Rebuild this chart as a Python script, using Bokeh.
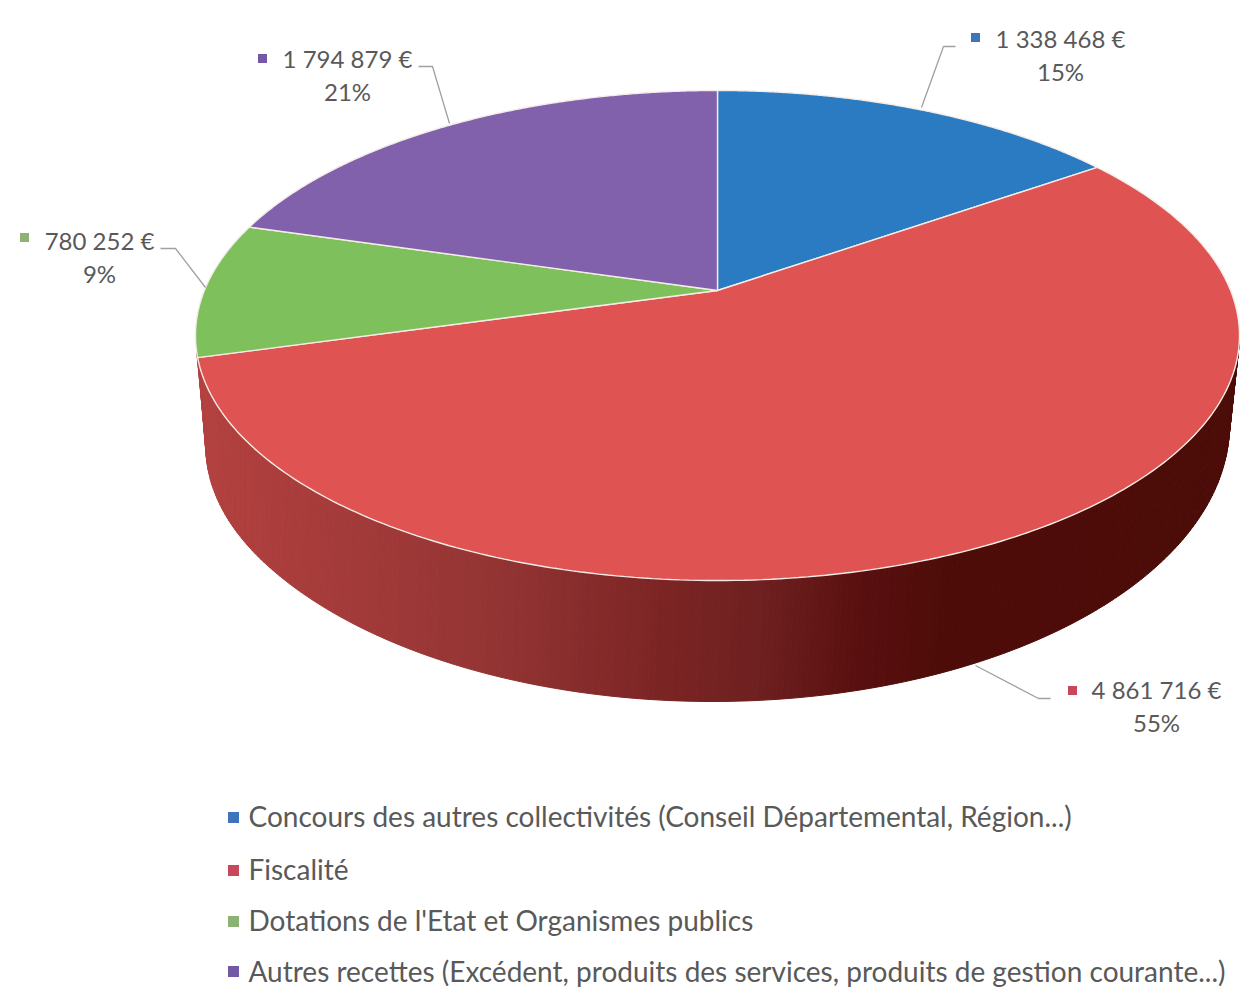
import numpy as np
from bokeh.core.properties import value
from bokeh.embed import file_html
from bokeh.models import ColumnDataSource, Range1d
from bokeh.plotting import figure
from bokeh.resources import INLINE

# Budget receipts, euros
categories = [
    "Concours des autres collectivités (Conseil Départemental, Région...)",
    "Fiscalité",
    "Dotations de l'Etat et Organismes publics",
    "Autres recettes (Excédent, produits des services, produits de gestion courante...)",
]
amounts = [1338468, 4861716, 780252, 1794879]
amount_labels = ["1 338 468 €", "4 861 716 €", "780 252 €", "1 794 879 €"]
percent_labels = ["15%", "55%", "9%", "21%"]
colors = ["#2A7BC1", "#E05353", "#7DC05C", "#8261AC"]
key_colors = ["#3F74BC", "#C8475A", "#8DB374", "#7358A6"]

TEXT = "#595959"
FONT = "Lato"

# Top face: ellipse in screen space, apex is the perspective image of the disc centre
CX, CY, RX, RY = 717.0, 335.0, 522.0, 245.0
APEX_Y = 290.0
A = (CY - APEX_Y) / RY
# Lower rim of the wall
BX, BY, BRX, BRY = 712.0, 424.0, 517.0, 277.0


def project(theta):
    """Clockwise angle from 12 o'clock on the disc to page coordinates."""
    u, v = np.sin(theta), -np.cos(theta)
    d = 1 - A * v
    return CX + RX * u * np.sqrt(1 - A * A) / d, CY + RY * (v - A) / d


def wall_color(x):
    stops_x = [195, 353, 506, 659, 761, 863, 940, 1240]
    r = [180, 163, 146, 125, 111, 90, 79, 76]
    g = [66, 59, 52, 37, 32, 16, 13, 12]
    b = [64, 58, 51, 37, 32, 16, 10, 8]
    return "#%02x%02x%02x" % (
        int(np.interp(x, stops_x, r)),
        int(np.interp(x, stops_x, g)),
        int(np.interp(x, stops_x, b)),
    )


def rim_x(phi):
    """Lower rim abscissa; the rim eases inward towards its left end."""
    t = np.clip((np.degrees(phi) - 150.0) / 26.0, 0.0, 1.0)
    return BX + BRX * np.cos(phi) + 9.0 * t * t


p = figure(
    width=1240, height=987, output_backend="svg", toolbar_location=None,
    x_range=Range1d(0, 1240), y_range=Range1d(987, 0),
    min_border=0, outline_line_color=None, background_fill_color="white",
)
p.axis.visible = False
p.grid.visible = False

# Side wall as thin vertical facets, shaded left to right
phis = np.radians(np.linspace(0, 176, 260))
wx, wy, wc = [], [], []
for a, b in zip(phis[:-1], phis[1:]):
    wx.append([CX + RX * np.cos(a), CX + RX * np.cos(b), rim_x(b), rim_x(a)])
    wy.append([CY + RY * np.sin(a), CY + RY * np.sin(b), BY + BRY * np.sin(b), BY + BRY * np.sin(a)])
    wc.append(wall_color(CX + RX * np.cos((a + b) / 2)))
p.patches(wx, wy, fill_color=wc, line_color=wc, line_width=1)

# Slices of the top face
total = sum(amounts)
edges = np.concatenate([[0], np.cumsum(amounts)]) / total * 2 * np.pi
xs, ys = [], []
for start, end in zip(edges[:-1], edges[1:]):
    t = np.linspace(start, end, 240)
    x, y = project(t)
    xs.append([CX] + list(x))
    ys.append([APEX_Y] + list(y))
p.patches(xs, ys, fill_color=colors, line_color="#F4ECE6", line_width=1.4)

# Data labels with their leader lines and colour keys
leaders = [
    ([955, 943, 921], [46, 46, 107]),
    ([1050, 1038, 975], [698, 698, 665]),
    ([160, 175, 205], [248, 248, 287]),
    ([418, 432, 449], [66, 66, 123]),
]
p.multi_line([l[0] for l in leaders], [l[1] for l in leaders], line_color="#A0A0A0", line_width=1.3)

label_src = ColumnDataSource(dict(
    x=[1060, 1156, 99, 347],
    y1=[38, 689, 240, 58],
    y2=[71, 722, 273, 91],
    kx=[975, 1072, 24, 262],
    ky=[37, 690, 237, 58],
    amount=amount_labels,
    pct=percent_labels,
    color=key_colors,
))
p.text("x", "y1", text="amount", source=label_src, text_font=value(FONT), text_font_size="24px",
       text_color=TEXT, text_align="center", text_baseline="middle")
p.text("x", "y2", text="pct", source=label_src, text_font=value(FONT), text_font_size="24px",
       text_color=TEXT, text_align="center", text_baseline="middle")
p.scatter("kx", "ky", source=label_src, marker="square", size=9, fill_color="color", line_color=None)

# Legend stacked under the pie
legend_src = ColumnDataSource(dict(
    ky=[817, 870, 921, 971],
    ty=[815, 868, 919, 970],
    name=categories,
    color=key_colors,
))
p.scatter(x=233, y="ky", source=legend_src, marker="square", size=11, fill_color="color", line_color=None)
p.text(x=248, y="ty", text="name", source=legend_src, text_font=value(FONT), text_font_size="28px",
       text_color=TEXT, text_align="left", text_baseline="middle")

open("out.html", "w").write(file_html(p, INLINE))
